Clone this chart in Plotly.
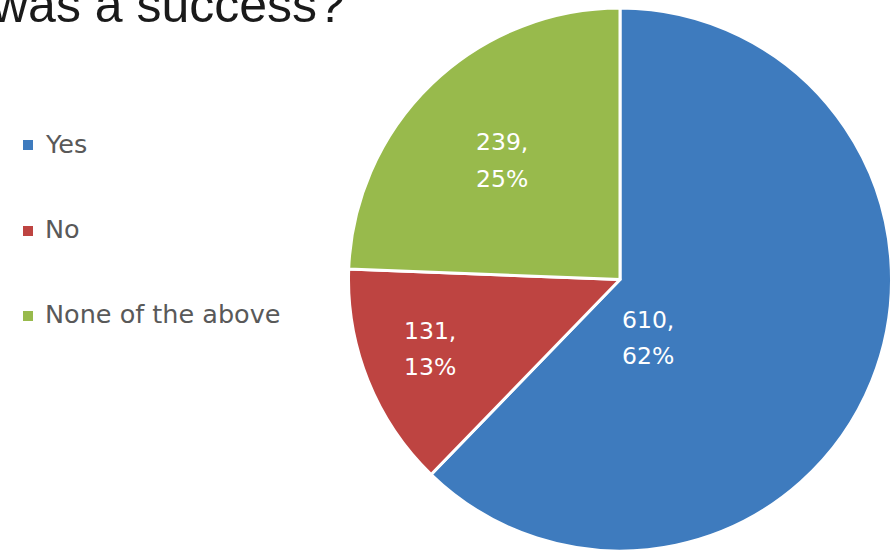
import plotly.graph_objects as go

W, H = 896, 551

categories = ["Yes", "No", "None of the above"]
counts = [610, 131, 239]
percents = [62, 13, 25]          # percentages as printed on the chart
colors = ["#3E7BBE", "#BE4441", "#98BA4C"]

title_text = "was a success?"

# ---- layout (pixel positions) ----
def px(x, clamp=False):
    v = x / W
    return min(1.0, max(0.0, v)) if clamp else v

def py(y, clamp=False):
    v = 1 - y / H
    return min(1.0, max(0.0, v)) if clamp else v

cx, cy, r = 620, 279.5, 271.5
# (x, y of value line, y of percent line)
label_pos = [(648, 320, 356), (430, 331, 367), (502, 142, 179)]
legend_text_y = [144, 229, 314]
legend_box_y = [145, 231, 316]

FONT = "DejaVu Sans, Verdana, sans-serif"

fig = go.Figure()
fig.add_trace(go.Pie(
    labels=categories,
    values=counts,
    sort=False,
    direction="clockwise",
    rotation=0,
    marker=dict(colors=colors, line=dict(color="white", width=3)),
    textinfo="none",
    hoverinfo="label+value+percent",
    showlegend=False,
    domain=dict(x=[px(cx - r, True), px(cx + r, True)],
                y=[py(cy + r, True), py(cy - r, True)]),
))

annotations = []
shapes = []

# title (partially cut off at the left edge, as in the source)
annotations.append(dict(
    x=px(347), y=py(5), xref="paper", yref="paper",
    xanchor="right", yanchor="middle", showarrow=False,
    text=title_text,
    font=dict(family="Liberation Sans, Arial", size=50, color="#1a1a1a"),
))

# data labels
for v, p, (lx, ly1, ly2) in zip(counts, percents, label_pos):
    for txt, ly in ((f"{v},", ly1), (f"{p}%", ly2)):
        annotations.append(dict(
            x=px(lx), y=py(ly), xref="paper", yref="paper",
            xanchor="center", yanchor="middle", showarrow=False,
            text=txt,
            font=dict(family=FONT, size=23.5, color="white"),
        ))

# legend
for cat, col, ty, by in zip(categories, colors, legend_text_y, legend_box_y):
    shapes.append(dict(
        type="rect", xref="paper", yref="paper",
        x0=px(23), x1=px(33), y0=py(by + 5), y1=py(by - 5),
        fillcolor=col, line=dict(width=0),
    ))
    annotations.append(dict(
        x=px(43), y=py(ty), xref="paper", yref="paper",
        xanchor="left", yanchor="middle", showarrow=False,
        text=cat,
        font=dict(family=FONT, size=25.5, color="#595959"),
    ))

fig.update_layout(
    width=W, height=H,
    margin=dict(l=0, r=0, t=0, b=0),
    paper_bgcolor="white",
    plot_bgcolor="white",
    annotations=annotations,
    shapes=shapes,
    showlegend=False,
)

fig.write_html("out.html",
               config={"displayModeBar": False},
               post_script="document.body.style.margin='0';document.body.style.overflow='hidden';")
